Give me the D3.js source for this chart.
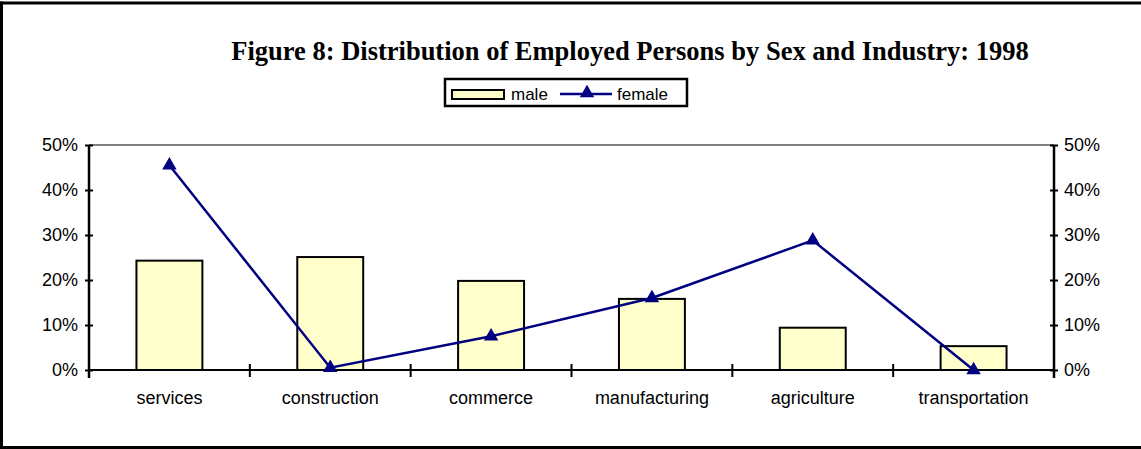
<!DOCTYPE html>
<html>
<head>
<meta charset="utf-8">
<script src="https://cdn.jsdelivr.net/npm/d3@7"></script>
<style>
  body { margin: 0; background: #fff; }
  text { font-family: Arial, "Liberation Sans", sans-serif; }
</style>
</head>
<body>
<div id="chart"></div>
<script>
// chart data
var categories = ["services", "construction", "commerce", "manufacturing", "agriculture", "transportation"];
var male = [0.243, 0.251, 0.198, 0.158, 0.094, 0.053];
var female = [0.455, 0.005, 0.075, 0.16, 0.288, 0.0];
var yTicks = [0, 0.1, 0.2, 0.3, 0.4, 0.5];

var W = 1141, H = 449;
var margin = {top: 145, right: 87, bottom: 79, left: 89},
    width = W - margin.left - margin.right,
    height = H - margin.top - margin.bottom;

var svg = d3.select("#chart").append("svg")
    .attr("width", W)
    .attr("height", H);

// outer frame
svg.append("line").attr("x1", 0).attr("x2", W).attr("y1", 3).attr("y2", 3)
    .attr("stroke", "#000").attr("stroke-width", 3);
svg.append("line").attr("x1", 1.5).attr("x2", 1.5).attr("y1", 1.5).attr("y2", H)
    .attr("stroke", "#000").attr("stroke-width", 3);
svg.append("line").attr("x1", 0).attr("x2", W).attr("y1", 447.5).attr("y2", 447.5)
    .attr("stroke", "#000").attr("stroke-width", 3);

// title
svg.append("text")
    .text("Figure 8: Distribution of Employed Persons by Sex and Industry: 1998")
    .attr("x", 630)
    .attr("y", 60)
    .attr("text-anchor", "middle")
    .style("font-family", "'Liberation Serif', 'Times New Roman', serif")
    .style("font-weight", "bold")
    .style("font-size", "26.5px");

var g = svg.append("g")
    .attr("transform", "translate(" + margin.left + "," + margin.top + ")");

var x = d3.scaleBand().domain(categories).range([0, width]).paddingInner(0.59).paddingOuter(0.295);
var xc = d3.scaleBand().domain(categories).range([0, width]);
var y = d3.scaleLinear().domain([0, 0.5]).range([height, 0]);

// top plot border
g.append("line").attr("x1", 0).attr("x2", width).attr("y1", 0).attr("y2", 0)
    .attr("stroke", "#808080").attr("stroke-width", 2);

// bars
g.selectAll(".bar")
  .data(male)
  .enter()
  .append("rect")
  .attr("class", "bar")
  .attr("x", function(d, i){ return x(categories[i]); })
  .attr("width", x.bandwidth())
  .attr("y", function(d){ return y(d); })
  .attr("height", function(d){ return height - y(d); })
  .attr("fill", "#FFFFCC")
  .attr("stroke", "#000")
  .attr("stroke-width", 2);

// axes
var fmt = d3.format(".0%");
var yl = g.append("g").call(d3.axisLeft(y).tickValues(yTicks).tickFormat(fmt).tickSize(8).tickPadding(7))
    .attr("transform", "translate(4,0)");
var yr = g.append("g").attr("transform", "translate(" + (width - 4) + ",0)")
    .call(d3.axisRight(y).tickValues(yTicks).tickFormat(fmt).tickSize(8).tickPadding(6));
[yl, yr].forEach(function(a){
  a.select(".domain").attr("d", a === yl ? "M-4,0V" + (height + 8) : "M4,0V" + (height + 8))
    .attr("stroke", "#000").attr("stroke-width", 2.5);
  a.selectAll(".tick line").attr("stroke", "#000").attr("stroke-width", 2);
  a.selectAll(".tick text").style("font-size", "18px").attr("fill", "#000");
});

// x baseline with category separators
g.append("line").attr("x1", 0).attr("x2", width).attr("y1", height).attr("y2", height)
    .attr("stroke", "#000").attr("stroke-width", 2);
g.selectAll(".sep")
  .data(categories.slice(1))
  .enter()
  .append("line")
  .attr("x1", function(d){ return xc(d); })
  .attr("x2", function(d){ return xc(d); })
  .attr("y1", height - 6)
  .attr("y2", height + 7)
  .attr("stroke", "#000")
  .attr("stroke-width", 2);
g.selectAll(".cat")
  .data(categories)
  .enter()
  .append("text")
  .text(function(d){ return d; })
  .attr("x", function(d){ return xc(d) + xc.bandwidth() / 2; })
  .attr("y", height + 34)
  .attr("text-anchor", "middle")
  .style("font-size", "18px");

// female line
var cx = function(i){ return xc(categories[i]) + xc.bandwidth() / 2; };
var line = d3.line()
  .x(function(d, i){ return cx(i); })
  .y(function(d){ return y(d); });
g.append("path")
  .datum(female)
  .attr("d", line)
  .attr("fill", "none")
  .attr("stroke", "#000080")
  .attr("stroke-width", 2.5);

var tri = d3.symbol().type(d3.symbolTriangle).size(90);
g.selectAll(".marker")
  .data(female)
  .enter()
  .append("path")
  .attr("class", "marker")
  .attr("d", tri)
  .attr("fill", "#000080")
  .attr("transform", function(d, i){ return "translate(" + cx(i) + "," + y(d) + ")"; });

// legend
var leg = svg.append("g").attr("transform", "translate(445,79)");
leg.append("rect").attr("width", 242).attr("height", 27)
    .attr("fill", "#fff").attr("stroke", "#000").attr("stroke-width", 2.5);
leg.append("rect").attr("x", 7).attr("y", 11).attr("width", 52).attr("height", 9)
    .attr("fill", "#FFFFCC").attr("stroke", "#000").attr("stroke-width", 2);
leg.append("text").text("male").attr("x", 66).attr("y", 21).style("font-size", "17px");
leg.append("line").attr("x1", 115).attr("x2", 167).attr("y1", 15).attr("y2", 15)
    .attr("stroke", "#000080").attr("stroke-width", 2.5);
leg.append("path").attr("d", tri).attr("fill", "#000080")
    .attr("transform", "translate(142,14)");
leg.append("text").text("female").attr("x", 172).attr("y", 21).style("font-size", "17px");
</script>
</body>
</html>
